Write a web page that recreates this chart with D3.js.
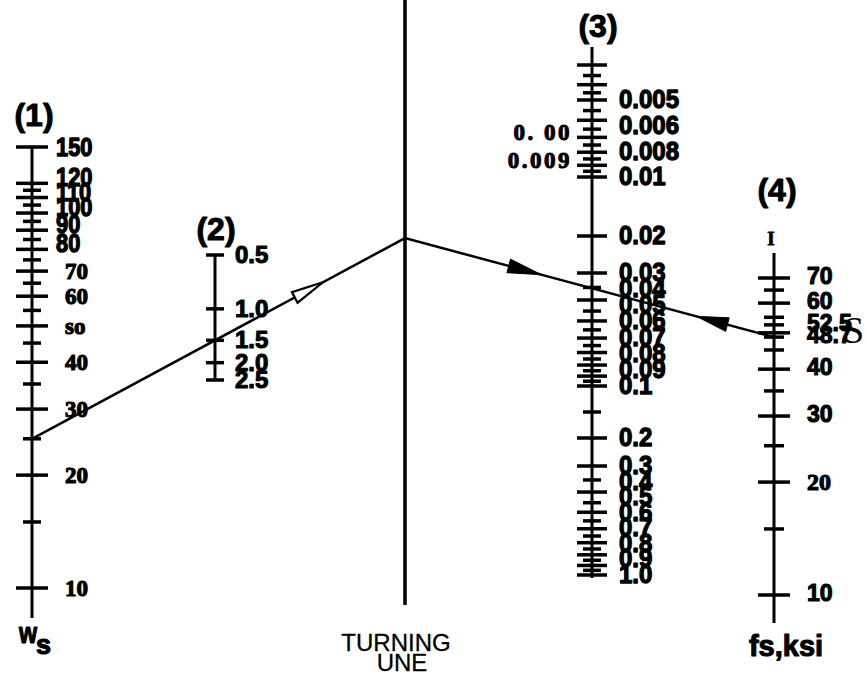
<!DOCTYPE html>
<html><head><meta charset="utf-8">
<script src="https://cdn.jsdelivr.net/npm/d3@7"></script>
<style>body{margin:0;background:#fff}svg{display:block}</style>
</head><body>
<svg id="chart" width="867" height="686"></svg>
<script>
// ---------- data ----------
const scale1Ticks = [150,120,115,110,105,100,95,90,85,80,75,70,65,60,55,50,45,40,35,30,25,20,15,10];
const scale1Major = [150,120,110,100,90,80,70,60,50,40,30,20,10];
const scale1LabelValues = [150,120,110,100,90,80,70,60,50,40,30,20,10];
const scale1LabelTexts  = ["150","120","110","100","90","80","70","60","so","40","30","20","10"];

const scale2Ticks = [0.5,1.0,1.5,2.0,2.5];
const scale2LabelTexts = ["0.5","1.0","1.5","2.0","2.5"];

const scale3Fine   = d3.range(6,21).map(i => ({v: i*0.0005, major: i%2===0}));   // 0.003 .. 0.01
const scale3Mid    = d3.range(6,21).map(i => ({v: i*0.005,  major: i%2===0}));   // 0.03 .. 0.1
const scale3Coarse = d3.range(6,21).map(i => ({v: i*0.05,   major: i%2===0}));   // 0.3 .. 1.0
const scale3Extra  = [{v:0.02, major:true},{v:0.15, major:false},{v:0.2, major:true}];
const scale3RightStacks = [
  ["0.005","0.006","0.008"], ["0.01"], ["0.02"],
  ["0.03","0.04","0.05","0.06","0.07","0.08","0.09","0.1"], ["0.2"],
  ["0.3","0.4","0.5","0.6","0.7","0.8","0.9","1.0"]
];
const scale3LeftValues = [0.007, 0.009];
const scale3LeftTexts  = ["0. 00", "0.009"];

const scale4Ticks = [70,65,60,55,52.5,50,48.7,45,40,35,30,25,20,15,10];
const scale4Major = [70,60,50,40,30,20,10];
const scale4LabelValues = [70,60,52.5,48.7,40,30,20,10];
const scale4LabelTexts  = ["70","60","52.5","48.7","40","30","20","10"];

const keyWs = 25, keyRatio = 1.5, keyFs = 48.7;

// ---------- layout ----------
const svg = d3.select("#chart");
const X1 = 32, X2 = 215, XT = 405, X3 = 592, X4 = 774;
const SANS = "'Liberation Sans', Arial, Helvetica, sans-serif";
const SERIF = "'Liberation Serif', 'Times New Roman', serif";

const s1 = d3.scaleLog().domain([10,150]).range([588,147]);
const s2 = d3.scaleLog().domain([0.5,2.5]).range([255,380]);
const s3 = d3.scaleLog()
  .domain([0.003,0.005,0.01,0.02,0.03,0.1,0.15,0.2,0.3,1.0])
  .range([65,100,177,236,273,386,412,438,466,575]);
const s4 = d3.scaleLog().domain([10,70]).range([595,278]);

function vline(x, y0, y1, w) {
  svg.append("line").attr("x1",x).attr("x2",x).attr("y1",y0).attr("y2",y1)
    .attr("stroke","#000").attr("stroke-width",w);
}
function ticks(x, data, yScale, half, w) {
  svg.append("g").selectAll("line").data(data).join("line")
    .attr("x1", d => x - half(d)).attr("x2", d => x + half(d))
    .attr("y1", d => yScale(d.v !== undefined ? d.v : d))
    .attr("y2", d => yScale(d.v !== undefined ? d.v : d))
    .attr("stroke","#000").attr("stroke-width",w);
}
function label(x, y, str, o) {
  const t = svg.append("text")
    .attr("transform", `translate(${x},${y}) scale(${o.sx||1},${o.sy||1})`)
    .attr("font-family", o.family || SANS)
    .attr("font-weight", o.weight || "bold")
    .attr("font-size", o.size)
    .attr("text-anchor", o.anchor || "start")
    .attr("fill","#000")
    .text(str);
  const sw = o.sw !== undefined ? o.sw : 1;
  if (sw > 0) t.attr("stroke","#000").attr("stroke-width", sw).attr("stroke-linejoin","round");
  if (o.ls) t.attr("letter-spacing", o.ls);
  return t;
}

// ---------- scale 1 ----------
vline(X1, 147, 618, 3);
ticks(X1, scale1Ticks, s1, d => scale1Major.includes(d) ? 16 : 9, 3.5);
scale1LabelValues.forEach((v,i) => {
  if (v >= 80) label(56, s1(v) + (v > 120 ? 9 : 3), scale1LabelTexts[i], {size:23, sx:0.95, sy:1.12, sw:1.2});
  else label(65, s1(v) + 8, scale1LabelTexts[i], {size:23, family:SERIF, sw:1.1});
});
label(34, 126, "(1)", {size:32, anchor:"middle", sw:1});
label(19, 643, "w", {size:29, sx:0.8, sw:1.2});
label(36, 654, "s", {size:27, sw:1.2});

// ---------- scale 2 ----------
vline(X2, 255, 380, 3);
ticks(X2, scale2Ticks, s2, () => 9, 3.5);
scale2Ticks.forEach((v,i) => label(235, s2(v) + 8, scale2LabelTexts[i], {size:24, sw:1.1}));
label(216, 240, "(2)", {size:32, anchor:"middle", sw:1});

// ---------- turning line ----------
vline(XT, 0, 605, 3.5);
label(396, 651, "TURNING", {size:24, weight:"normal", anchor:"middle", sw:0.3});
label(402, 671, "UNE", {size:24, weight:"normal", anchor:"middle", sw:0.3});

// ---------- scale 3 ----------
vline(X3, 47, 578, 3);
const s3all = scale3Fine.concat(scale3Extra, scale3Mid, scale3Coarse);
ticks(X3, s3all, s3, d => d.major ? 15 : 9, 3.5);
scale3RightStacks.forEach(stack => {
  const vals = stack.map(Number);
  const y0 = s3(vals[0]), y1 = s3(vals[vals.length-1]);
  const step = stack.length > 1 ? (y1 - y0) / (stack.length - 1) : 0;
  stack.forEach((txt,i) => label(619, y0 + i*step + 8, txt, {size:24, sy:1.05, sw:1.2}));
});
scale3LeftValues.forEach((v,i) =>
  label(572, s3(v) + 3, scale3LeftTexts[i], {size:23, family:SERIF, anchor:"end", ls:"2.5px", sw:1}));
label(598, 37, "(3)", {size:32, anchor:"middle", sw:1});

// ---------- scale 4 ----------
vline(X4, 253, 623, 3);
ticks(X4, scale4Ticks, s4, d => scale4Major.includes(d) ? 16 : 10, 3.5);
scale4LabelValues.forEach((v,i) => {
  const txt = scale4LabelTexts[i];
  if (txt === "20") label(807, s4(v) + 8, txt, {size:24, family:SERIF, sw:1.1});
  else label(807, s4(v) + 6, txt, {size:23, sw:1.1});
});
label(843, 343, "S", {size:38, family:SERIF, weight:"normal", sw:0});
label(777, 201, "(4)", {size:32, anchor:"middle", sw:1});
label(771, 245, "I", {size:19, family:SERIF, anchor:"middle", sw:0.8});
label(786, 656, "fs,ksi", {size:29, anchor:"middle", sw:1.1});

// ---------- index line ----------
const A = [X1, s1(keyWs)];
const B = [X2, s2(keyRatio)];
const T = [XT, A[1] + (B[1]-A[1]) * (XT - X1) / (X2 - X1)];
const C = [X4, s4(keyFs)];
svg.append("path").attr("d", d3.line()([A, T, C]))
  .attr("fill","none").attr("stroke","#000").attr("stroke-width",2.5);

function arrow(p0, p1, t, len, hw, filled, reverse) {
  const tip = [p0[0] + t*(p1[0]-p0[0]), p0[1] + t*(p1[1]-p0[1])];
  let dx = p1[0]-p0[0], dy = p1[1]-p0[1];
  const L = Math.hypot(dx,dy); dx/=L; dy/=L;
  if (reverse) { dx=-dx; dy=-dy; }
  const b = [tip[0]-len*dx, tip[1]-len*dy];
  const n = [-dy, dx];
  const pts = [tip, [b[0]+hw*n[0], b[1]+hw*n[1]], [b[0]-hw*n[0], b[1]-hw*n[1]]];
  svg.append("path").attr("d", d3.line()(pts) + "Z")
    .attr("fill", filled ? "#000" : "#fff")
    .attr("stroke","#000").attr("stroke-width", filled ? 1 : 2.2)
    .attr("stroke-linejoin","miter");
}
arrow(A, T, 0.78, 32, 6, false, false);
arrow(T, C, 0.37, 34, 7, true, false);
arrow(T, C, 0.79, 32, 7, true, true);
</script>
</body></html>
